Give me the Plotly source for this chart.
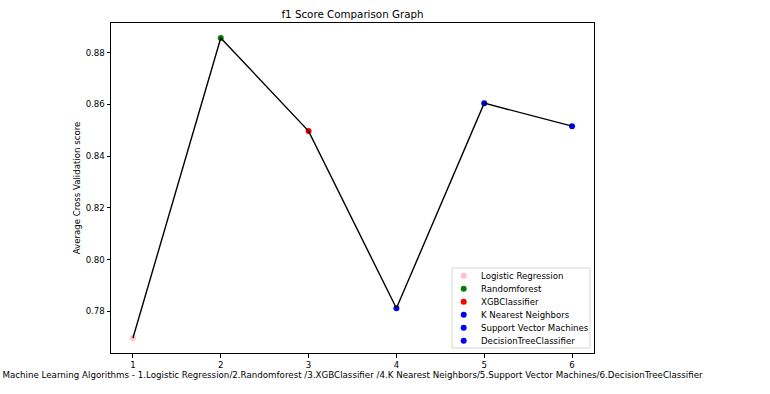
import plotly.graph_objects as go

algorithms = ["Logistic Regression", "Randomforest", "XGBClassifier",
              "K Nearest Neighbors", "Support Vector Machines", "DecisionTreeClassifier"]
positions = [1, 2, 3, 4, 5, 6]
scores = [0.7697, 0.8857, 0.8497, 0.7812, 0.8605, 0.8516]
colors = ["pink", "green", "red", "blue", "blue", "blue"]
y_ticks = [0.78, 0.80, 0.82, 0.84, 0.86, 0.88]

# plot area in pixels
L, R, T, B = 111, 594, 23, 353
W, H = 770, 394
PW, PH = R - L, B - T

def px_x(p):
    return (p - L) / PW

def px_y(p):
    return (B - p) / PH

fig = go.Figure()
for name, x, y, c in zip(algorithms, positions, scores, colors):
    fig.add_trace(go.Scatter(x=[x], y=[y], mode="markers", name=name, showlegend=False,
                             marker=dict(color=c, size=6, line=dict(width=0))))
fig.add_trace(go.Scatter(x=positions, y=scores, mode="lines", showlegend=False,
                         line=dict(color="black", width=1.4)))

font = dict(family="DejaVu Sans", size=8.6, color="black")

# legend box (matplotlib-like, compact)
shapes = [dict(type="rect", xref="paper", yref="paper",
               x0=px_x(452), x1=px_x(590), y0=px_y(348), y1=px_y(268),
               line=dict(color="#d6d6d6", width=1), fillcolor="rgba(255,255,255,0.8)", layer="above")]
annotations = []
for i, (name, c) in enumerate(zip(algorithms, colors)):
    yc = 275.7 + 13 * i
    shapes.append(dict(type="circle", xref="paper", yref="paper",
                       xsizemode="pixel", ysizemode="pixel",
                       xanchor=px_x(463.7), yanchor=px_y(yc),
                       x0=-3, x1=3, y0=-3, y1=3,
                       fillcolor=c, line=dict(width=0), layer="above"))
    annotations.append(dict(text=name, xref="paper", yref="paper", x=px_x(479), y=px_y(yc),
                            xanchor="left", yanchor="middle", showarrow=False, font=font))

axis_common = dict(showline=True, linecolor="black", linewidth=1, mirror=True,
                   ticks="outside", ticklen=3.5, tickcolor="black", showgrid=False,
                   zeroline=False, tickfont=font, automargin=False)
fig.update_layout(
    width=W, height=H,
    margin=dict(l=L, r=W - R, t=T, b=H - B),
    paper_bgcolor="white", plot_bgcolor="white",
    font=font,
    title=dict(text="f1 Score Comparison Graph", x=(L + R) / 2 / W, xanchor="center",
               y=1 - 14 / H, yanchor="middle", font=dict(family="DejaVu Sans", size=10.3, color="black")),
    xaxis=dict(range=[0.75, 6.25], tickvals=positions, ticktext=[str(p) for p in positions],
               title=dict(text="Machine Learning Algorithms - 1.Logistic Regression/2.Randomforest /3.XGBClassifier /4.K Nearest Neighbors/5.Support Vector Machines/6.DecisionTreeClassifier",
                          font=dict(family="DejaVu Sans", size=8.7, color="black"), standoff=3),
               **axis_common),
    yaxis=dict(range=[0.7639, 0.8915], tickvals=y_ticks, ticktext=[f"{v:.2f}" for v in y_ticks],
               title=dict(text="Average Cross Validation score", font=font, standoff=3),
               **axis_common),
    shapes=shapes,
    annotations=annotations,
    showlegend=False,
)
fig.write_html("out.html", config={"displayModeBar": False},
               post_script="document.body.style.margin='0';document.body.style.overflow='hidden';")
